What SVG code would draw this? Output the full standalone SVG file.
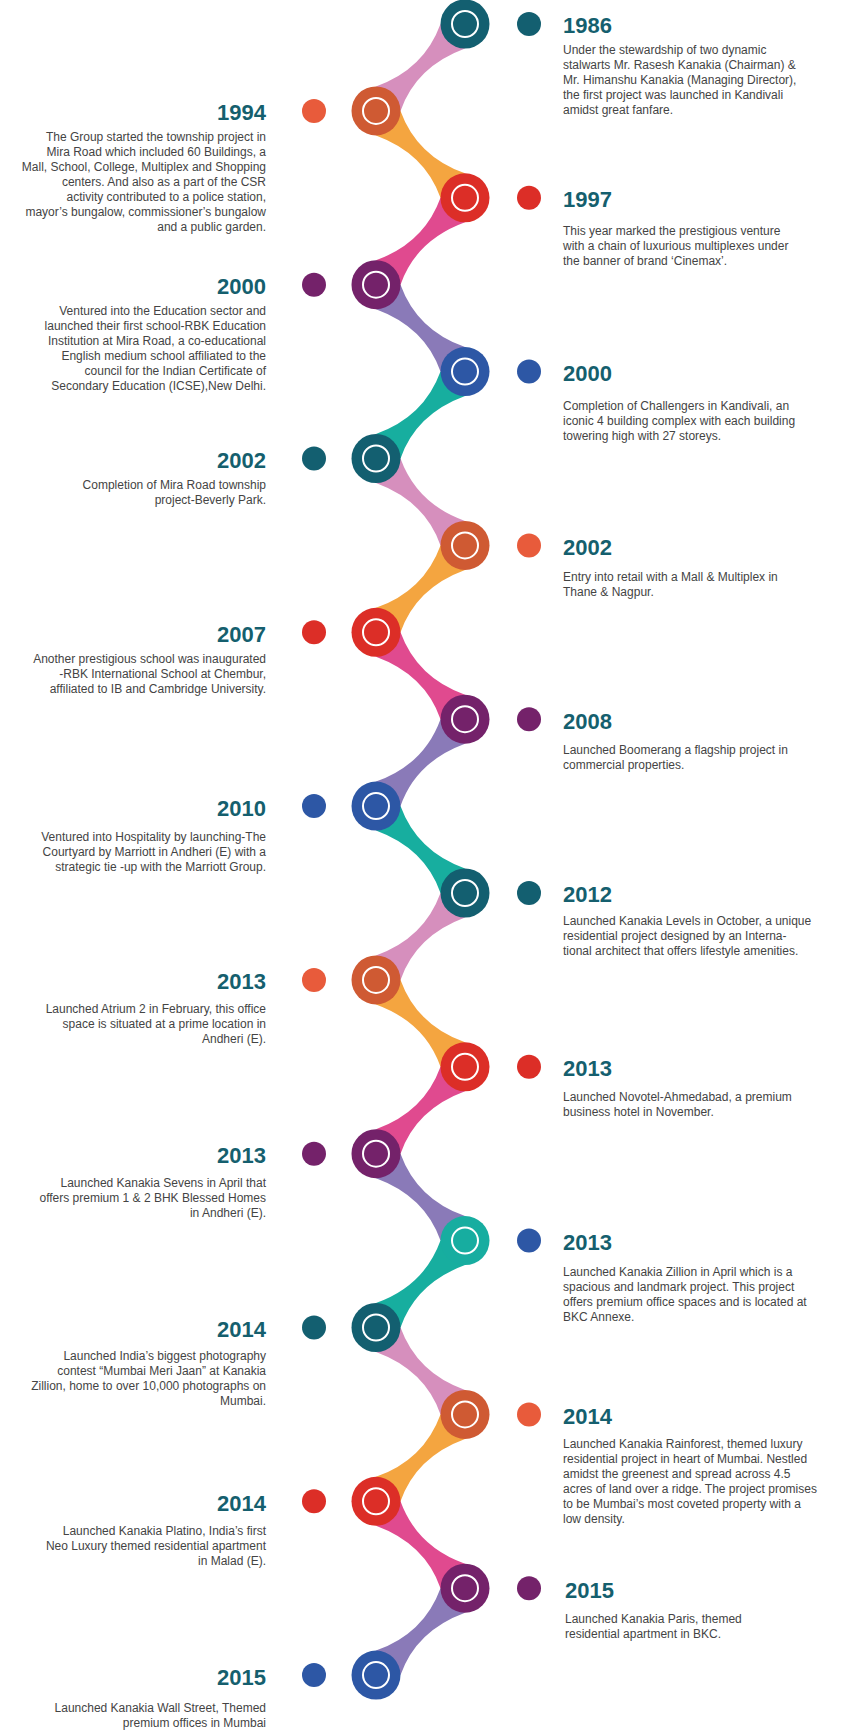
<svg xmlns="http://www.w3.org/2000/svg" xmlns:xlink="http://www.w3.org/1999/xlink" width="850" height="1735" viewBox="0 0 850 1735">
<style>
.yr{font-family:"Liberation Sans",Arial,sans-serif;font-weight:bold;font-size:22px;fill:#155f6e}
.d{font-family:"Liberation Sans",Arial,sans-serif;font-size:12px;fill:#444}
.L{text-anchor:end}
.ring{fill:none;stroke:#fff;stroke-width:2}
.teal{fill:#135f70}.orng{fill:#cf5a33}.red{fill:#dc2e27}.purp{fill:#74226a}.blue{fill:#2d57a5}.grn{fill:#17ada0}
.dor{fill:#e85b3b}
</style>
<defs>
<path id="lnk" d="M-24.5,0 Q-41,45.45 -89,62.4 L-64.5,86.9 Q-49,42.45 0,24.5 Z"/>
<g id="node"><circle r="24.5"/></g>
</defs>
<g id="connectors">
<use xlink:href="#lnk" fill="#d68fbd" transform="translate(465,24)"/>
<use xlink:href="#lnk" fill="#f4a540" transform="translate(376,110.9) scale(-1,1)"/>
<use xlink:href="#lnk" fill="#e04a8f" transform="translate(465,197.8)"/>
<use xlink:href="#lnk" fill="#8a7ab8" transform="translate(376,284.7) scale(-1,1)"/>
<use xlink:href="#lnk" fill="#17ae9f" transform="translate(465,371.6)"/>
<use xlink:href="#lnk" fill="#d68fbd" transform="translate(376,458.5) scale(-1,1)"/>
<use xlink:href="#lnk" fill="#f4a540" transform="translate(465,545.4)"/>
<use xlink:href="#lnk" fill="#e04a8f" transform="translate(376,632.3) scale(-1,1)"/>
<use xlink:href="#lnk" fill="#8a7ab8" transform="translate(465,719.2)"/>
<use xlink:href="#lnk" fill="#17ae9f" transform="translate(376,806.1) scale(-1,1)"/>
<use xlink:href="#lnk" fill="#d68fbd" transform="translate(465,893)"/>
<use xlink:href="#lnk" fill="#f4a540" transform="translate(376,979.9) scale(-1,1)"/>
<use xlink:href="#lnk" fill="#e04a8f" transform="translate(465,1066.8)"/>
<use xlink:href="#lnk" fill="#8a7ab8" transform="translate(376,1153.7) scale(-1,1)"/>
<use xlink:href="#lnk" fill="#17ae9f" transform="translate(465,1240.6)"/>
<use xlink:href="#lnk" fill="#d68fbd" transform="translate(376,1327.5) scale(-1,1)"/>
<use xlink:href="#lnk" fill="#f4a540" transform="translate(465,1414.4)"/>
<use xlink:href="#lnk" fill="#e04a8f" transform="translate(376,1501.3) scale(-1,1)"/>
<use xlink:href="#lnk" fill="#8a7ab8" transform="translate(465,1588.2)"/>
</g>

<g id="n0"><circle cx="465" cy="24" r="24.5" class="teal"/><circle cx="465" cy="24" r="13" class="ring"/><circle cx="529" cy="24" r="12" class="teal"/>
<text class="yr" x="563" y="33">1986</text>
<text class="d" x="563" y="54"><tspan x="563">Under the stewardship of two dynamic</tspan><tspan x="563" dy="15">stalwarts Mr. Rasesh Kanakia (Chairman) &amp;</tspan><tspan x="563" dy="15">Mr. Himanshu Kanakia (Managing Director),</tspan><tspan x="563" dy="15">the first project was launched in Kandivali</tspan><tspan x="563" dy="15">amidst great fanfare.</tspan></text></g>

<g id="n1"><circle cx="376" cy="110.9" r="24.5" class="orng"/><circle cx="376" cy="110.9" r="13" class="ring"/><circle cx="314" cy="110.9" r="12" class="dor"/>
<text class="yr L" x="266" y="120">1994</text>
<text class="d L" x="266" y="141"><tspan x="266">The Group started the township project in</tspan><tspan x="266" dy="15">Mira Road which included 60 Buildings, a</tspan><tspan x="266" dy="15">Mall, School, College, Multiplex and Shopping</tspan><tspan x="266" dy="15">centers. And also as a part of the CSR</tspan><tspan x="266" dy="15">activity contributed to a police station,</tspan><tspan x="266" dy="15">mayor’s bungalow, commissioner’s bungalow</tspan><tspan x="266" dy="15">and a public garden.</tspan></text></g>

<g id="n2"><circle cx="465" cy="197.8" r="24.5" class="red"/><circle cx="465" cy="197.8" r="13" class="ring"/><circle cx="529" cy="197.8" r="12" class="red"/>
<text class="yr" x="563" y="207">1997</text>
<text class="d" x="563" y="235"><tspan x="563">This year marked the prestigious venture</tspan><tspan x="563" dy="15">with a chain of luxurious multiplexes under</tspan><tspan x="563" dy="15">the banner of brand ‘Cinemax’.</tspan></text></g>

<g id="n3"><circle cx="376" cy="284.7" r="24.5" class="purp"/><circle cx="376" cy="284.7" r="13" class="ring"/><circle cx="314" cy="284.7" r="12" class="purp"/>
<text class="yr L" x="266" y="294">2000</text>
<text class="d L" x="266" y="315"><tspan x="266">Ventured into the Education sector and</tspan><tspan x="266" dy="15">launched their first school-RBK Education</tspan><tspan x="266" dy="15">Institution at Mira Road, a co-educational</tspan><tspan x="266" dy="15">English medium school affiliated to the</tspan><tspan x="266" dy="15">council for the Indian Certificate of</tspan><tspan x="266" dy="15">Secondary Education (ICSE),New Delhi.</tspan></text></g>

<g id="n4"><circle cx="465" cy="371.6" r="24.5" class="blue"/><circle cx="465" cy="371.6" r="13" class="ring"/><circle cx="529" cy="371.6" r="12" class="blue"/>
<text class="yr" x="563" y="381">2000</text>
<text class="d" x="563" y="410"><tspan x="563">Completion of Challengers in Kandivali, an</tspan><tspan x="563" dy="15">iconic 4 building complex with each building</tspan><tspan x="563" dy="15">towering high with 27 storeys.</tspan></text></g>

<g id="n5"><circle cx="376" cy="458.5" r="24.5" class="teal"/><circle cx="376" cy="458.5" r="13" class="ring"/><circle cx="314" cy="458.5" r="12" class="teal"/>
<text class="yr L" x="266" y="468">2002</text>
<text class="d L" x="266" y="489"><tspan x="266">Completion of Mira Road township</tspan><tspan x="266" dy="15">project-Beverly Park.</tspan></text></g>

<g id="n6"><circle cx="465" cy="545.4" r="24.5" class="orng"/><circle cx="465" cy="545.4" r="13" class="ring"/><circle cx="529" cy="545.4" r="12" class="dor"/>
<text class="yr" x="563" y="555">2002</text>
<text class="d" x="563" y="581"><tspan x="563">Entry into retail with a Mall &amp; Multiplex in</tspan><tspan x="563" dy="15">Thane &amp; Nagpur.</tspan></text></g>

<g id="n7"><circle cx="376" cy="632.3" r="24.5" class="red"/><circle cx="376" cy="632.3" r="13" class="ring"/><circle cx="314" cy="632.3" r="12" class="red"/>
<text class="yr L" x="266" y="642">2007</text>
<text class="d L" x="266" y="663"><tspan x="266">Another prestigious school was inaugurated</tspan><tspan x="266" dy="15">-RBK International School at Chembur,</tspan><tspan x="266" dy="15">affiliated to IB and Cambridge University.</tspan></text></g>

<g id="n8"><circle cx="465" cy="719.2" r="24.5" class="purp"/><circle cx="465" cy="719.2" r="13" class="ring"/><circle cx="529" cy="719.2" r="12" class="purp"/>
<text class="yr" x="563" y="729">2008</text>
<text class="d" x="563" y="754"><tspan x="563">Launched Boomerang a flagship project in</tspan><tspan x="563" dy="15">commercial properties.</tspan></text></g>

<g id="n9"><circle cx="376" cy="806.1" r="24.5" class="blue"/><circle cx="376" cy="806.1" r="13" class="ring"/><circle cx="314" cy="806.1" r="12" class="blue"/>
<text class="yr L" x="266" y="816">2010</text>
<text class="d L" x="266" y="841"><tspan x="266">Ventured into Hospitality by launching-The</tspan><tspan x="266" dy="15">Courtyard by Marriott in Andheri (E) with a</tspan><tspan x="266" dy="15">strategic tie -up with the Marriott Group.</tspan></text></g>

<g id="n10"><circle cx="465" cy="893" r="24.5" class="teal"/><circle cx="465" cy="893" r="13" class="ring"/><circle cx="529" cy="893" r="12" class="teal"/>
<text class="yr" x="563" y="902">2012</text>
<text class="d" x="563" y="925"><tspan x="563">Launched Kanakia Levels in October, a unique</tspan><tspan x="563" dy="15">residential project designed by an Interna-</tspan><tspan x="563" dy="15">tional architect that offers lifestyle amenities.</tspan></text></g>

<g id="n11"><circle cx="376" cy="979.9" r="24.5" class="orng"/><circle cx="376" cy="979.9" r="13" class="ring"/><circle cx="314" cy="979.9" r="12" class="dor"/>
<text class="yr L" x="266" y="989">2013</text>
<text class="d L" x="266" y="1013"><tspan x="266">Launched Atrium 2 in February, this office</tspan><tspan x="266" dy="15">space is situated at a prime location in</tspan><tspan x="266" dy="15">Andheri (E).</tspan></text></g>

<g id="n12"><circle cx="465" cy="1066.8" r="24.5" class="red"/><circle cx="465" cy="1066.8" r="13" class="ring"/><circle cx="529" cy="1066.8" r="12" class="red"/>
<text class="yr" x="563" y="1076">2013</text>
<text class="d" x="563" y="1101"><tspan x="563">Launched Novotel-Ahmedabad, a premium</tspan><tspan x="563" dy="15">business hotel in November.</tspan></text></g>

<g id="n13"><circle cx="376" cy="1153.7" r="24.5" class="purp"/><circle cx="376" cy="1153.7" r="13" class="ring"/><circle cx="314" cy="1153.7" r="12" class="purp"/>
<text class="yr L" x="266" y="1163">2013</text>
<text class="d L" x="266" y="1187"><tspan x="266">Launched Kanakia Sevens in April that</tspan><tspan x="266" dy="15">offers premium 1 &amp; 2 BHK Blessed Homes</tspan><tspan x="266" dy="15">in Andheri (E).</tspan></text></g>

<g id="n14"><circle cx="465" cy="1240.6" r="24.5" class="grn"/><circle cx="465" cy="1240.6" r="13" class="ring"/><circle cx="529" cy="1240.6" r="12" class="blue"/>
<text class="yr" x="563" y="1250">2013</text>
<text class="d" x="563" y="1276"><tspan x="563">Launched Kanakia Zillion in April which is a</tspan><tspan x="563" dy="15">spacious and landmark project. This project</tspan><tspan x="563" dy="15">offers premium office spaces and is located at</tspan><tspan x="563" dy="15">BKC Annexe.</tspan></text></g>

<g id="n15"><circle cx="376" cy="1327.5" r="24.5" class="teal"/><circle cx="376" cy="1327.5" r="13" class="ring"/><circle cx="314" cy="1327.5" r="12" class="teal"/>
<text class="yr L" x="266" y="1337">2014</text>
<text class="d L" x="266" y="1360"><tspan x="266">Launched India’s biggest photography</tspan><tspan x="266" dy="15">contest “Mumbai Meri Jaan” at Kanakia</tspan><tspan x="266" dy="15">Zillion, home to over 10,000 photographs on</tspan><tspan x="266" dy="15">Mumbai.</tspan></text></g>

<g id="n16"><circle cx="465" cy="1414.4" r="24.5" class="orng"/><circle cx="465" cy="1414.4" r="13" class="ring"/><circle cx="529" cy="1414.4" r="12" class="dor"/>
<text class="yr" x="563" y="1424">2014</text>
<text class="d" x="563" y="1448"><tspan x="563">Launched Kanakia Rainforest, themed luxury</tspan><tspan x="563" dy="15">residential project in heart of Mumbai. Nestled</tspan><tspan x="563" dy="15">amidst the greenest and spread across 4.5</tspan><tspan x="563" dy="15">acres of land over a ridge. The project promises</tspan><tspan x="563" dy="15">to be Mumbai’s most coveted property with a</tspan><tspan x="563" dy="15">low density.</tspan></text></g>

<g id="n17"><circle cx="376" cy="1501.3" r="24.5" class="red"/><circle cx="376" cy="1501.3" r="13" class="ring"/><circle cx="314" cy="1501.3" r="12" class="red"/>
<text class="yr L" x="266" y="1511">2014</text>
<text class="d L" x="266" y="1535"><tspan x="266">Launched Kanakia Platino, India’s first</tspan><tspan x="266" dy="15">Neo Luxury themed residential apartment</tspan><tspan x="266" dy="15">in Malad (E).</tspan></text></g>

<g id="n18"><circle cx="465" cy="1588.2" r="24.5" class="purp"/><circle cx="465" cy="1588.2" r="13" class="ring"/><circle cx="529" cy="1588.2" r="12" class="purp"/>
<text class="yr" x="565" y="1598">2015</text>
<text class="d" x="565" y="1623"><tspan x="565">Launched Kanakia Paris, themed</tspan><tspan x="565" dy="15">residential apartment in BKC.</tspan></text></g>

<g id="n19"><circle cx="376" cy="1675.1" r="24.5" class="blue"/><circle cx="376" cy="1675.1" r="13" class="ring"/><circle cx="314" cy="1675.1" r="12" class="blue"/>
<text class="yr L" x="266" y="1685">2015</text>
<text class="d L" x="266" y="1712"><tspan x="266">Launched Kanakia Wall Street, Themed</tspan><tspan x="266" dy="15">premium offices in Mumbai</tspan></text></g>
</svg>
